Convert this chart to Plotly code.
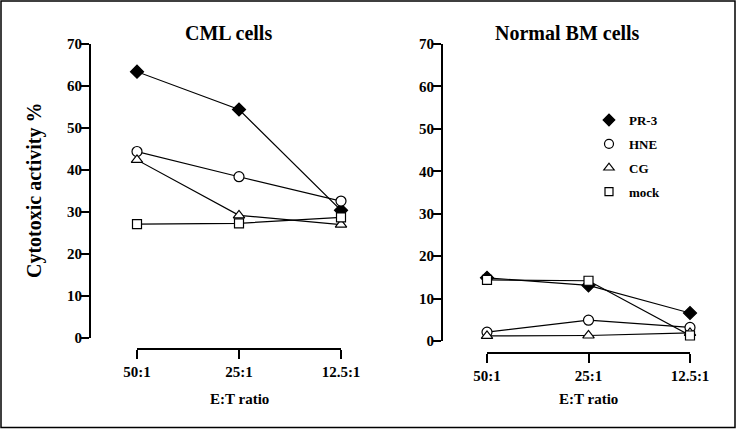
import plotly.graph_objects as go

ratios = ["50:1", "25:1", "12.5:1"]
series_names = ["PR-3", "HNE", "CG", "mock"]
cml_values = {
    "PR-3": [63.4, 54.4, 30.4],
    "HNE": [44.4, 38.4, 32.6],
    "CG": [42.4, 29.2, 27.0],
    "mock": [27.1, 27.3, 28.7],
}
bm_values = {
    "PR-3": [14.9, 13.1, 6.6],
    "HNE": [2.1, 4.9, 3.2],
    "CG": [1.2, 1.3, 1.9],
    "mock": [14.4, 14.2, 1.3],
}
y_ticks = [0, 10, 20, 30, 40, 50, 60, 70]

styles = {
    "PR-3": dict(symbol="diamond", size=10, color="black"),
    "HNE": dict(symbol="circle", size=10, color="white"),
    "CG": dict(symbol="triangle-up", size=10, color="white"),
    "mock": dict(symbol="square", size=9, color="white"),
}

W, H = 737, 429
FONT = "Liberation Serif"
fig = go.Figure()
xidx = list(range(len(ratios)))

for panel, (vals, xa, ya) in enumerate([(cml_values, "x", "y"), (bm_values, "x2", "y2")]):
    for name in series_names:
        st = styles[name]
        fig.add_trace(go.Scatter(
            x=xidx, y=vals[name], xaxis=xa, yaxis=ya, mode="lines+markers",
            line=dict(color="black", width=1.2),
            marker=dict(symbol=st["symbol"], size=st["size"], color=st["color"],
                        line=dict(color="black", width=1.2)),
            cliponaxis=False, showlegend=False, name=name,
        ))

# legend-only entries
for i, name in enumerate(series_names):
    st = styles[name]
    fig.add_trace(go.Scatter(
        x=[None], y=[None], xaxis="x2", yaxis="y2", mode="markers", name=name,
        legendgroup=f"g{i}",
        marker=dict(symbol=st["symbol"], size=st["size"] - 1, color=st["color"],
                    line=dict(color="black", width=1.2)),
    ))

def px_x(p):
    return p / W

def px_y(p):
    return (H - p) / H

tickfont = dict(family=FONT, size=15, color="black", weight="bold")
yax = dict(range=[0, 70], tickvals=y_ticks, ticks="outside", ticklen=8, tickwidth=2,
           tickcolor="black", showline=True, linecolor="black", linewidth=2.2,
           showgrid=False, zeroline=False, tickfont=tickfont, anchor="free",
           automargin=False, ticklabelstandoff=-4)
xax = dict(range=[0, 2], tickvals=xidx, ticktext=ratios, ticks="outside", ticklen=9,
           tickwidth=2, tickcolor="black", showline=True, linecolor="black",
           linewidth=2.2, showgrid=False, zeroline=False, tickfont=tickfont,
           anchor="free", automargin=False)

fig.update_layout(
    template="none",
    width=W, height=H, margin=dict(l=0, r=0, t=0, b=0, pad=0),
    paper_bgcolor="white", plot_bgcolor="white",
    font=dict(family=FONT, color="black"),
    xaxis=dict(xax, domain=[px_x(137), px_x(341)], position=px_y(349)),
    yaxis=dict(yax, domain=[px_y(338), px_y(44)], position=px_x(90)),
    xaxis2=dict(xax, domain=[px_x(487), px_x(690)], position=px_y(353)),
    yaxis2=dict(yax, domain=[px_y(341), px_y(44)], position=px_x(442)),
    legend=dict(x=px_x(589), y=px_y(105), xanchor="left", yanchor="top",
                font=dict(family=FONT, size=13, color="black", weight="bold"),
                tracegroupgap=4, bgcolor="rgba(0,0,0,0)", borderwidth=0),
    showlegend=True,
)

ann_font = dict(family=FONT, color="black", weight="bold")
def note(text, x, y, size, angle=0):
    fig.add_annotation(text=text, x=px_x(x), y=px_y(y), xref="paper", yref="paper",
                       xanchor="center", yanchor="middle", showarrow=False,
                       textangle=angle, font=dict(ann_font, size=size))

note("CML cells", 229, 33, 20)
note("Normal BM cells", 567, 33, 20)
note("E:T ratio", 239, 399, 15)
note("E:T ratio", 588, 399, 15)
note("Cytotoxic activity %", 34, 190, 20, -90)

fig.add_shape(type="rect", xref="paper", yref="paper",
              x0=px_x(1), x1=px_x(735), y0=px_y(427.5), y1=px_y(1),
              line=dict(color="black", width=1.5))

fig.write_html("out.html", config={"displayModeBar": False},
               post_script="document.body.style.margin='0';document.body.style.overflow='hidden';")
